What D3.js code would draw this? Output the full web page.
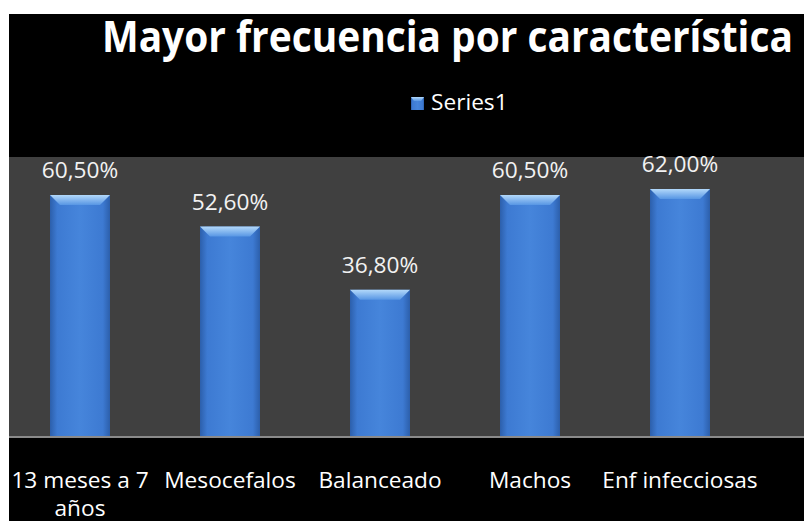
<!DOCTYPE html>
<html>
<head>
<meta charset="utf-8">
<script src="https://cdn.jsdelivr.net/npm/d3@7"></script>
<style>
  html, body { margin: 0; padding: 0; background: #fff; }
  svg { display: block; }
</style>
</head>
<body>
<div id="chart"></div>
<script>
const categories = ['13 meses a 7 años', 'Mesocefalos', 'Balanceado', 'Machos', 'Enf infecciosas']
const catLines = [['13 meses a 7', 'años'], ['Mesocefalos'], ['Balanceado'], ['Machos'], ['Enf infecciosas']]
const values = [0.605, 0.526, 0.368, 0.605, 0.62]
const valueLabels = ['60,50%', '52,60%', '36,80%', '60,50%', '62,00%']
const seriesName = 'Series1'
const title = 'Mayor frecuencia por característica'

const width = 804
const height = 521
const plot = { top: 157, bottom: 437, left: 9, right: 804 }
const font = '"Open Sans", "Noto Sans", sans-serif'
const stretch = 1.08

const svg = d3.select('#chart')
  .append('svg')
  .attr('width', width)
  .attr('height', height)

const defs = svg.append('defs')

const barGrad = defs.append('linearGradient')
  .attr('id', 'barGrad')
  .attr('x1', 0).attr('x2', 1).attr('y1', 0).attr('y2', 0)
barGrad.append('stop').attr('offset', '0%').attr('stop-color', '#2c5fab')
barGrad.append('stop').attr('offset', '12%').attr('stop-color', '#3d7ad2')
barGrad.append('stop').attr('offset', '50%').attr('stop-color', '#4685db')
barGrad.append('stop').attr('offset', '88%').attr('stop-color', '#3d7ad2')
barGrad.append('stop').attr('offset', '100%').attr('stop-color', '#2c5fab')

const bevelGrad = defs.append('linearGradient')
  .attr('id', 'bevelGrad')
  .attr('x1', 0).attr('x2', 0).attr('y1', 0).attr('y2', 1)
bevelGrad.append('stop').attr('offset', '0%').attr('stop-color', '#b2d8fa')
bevelGrad.append('stop').attr('offset', '100%').attr('stop-color', '#5796e4')

// black chart area (white strip top and left as in the picture)
svg.append('rect')
  .attr('x', 9).attr('y', 14)
  .attr('width', width - 9).attr('height', height - 14)
  .attr('fill', '#000')

// plot area
svg.append('rect')
  .attr('x', plot.left).attr('y', plot.top)
  .attr('width', plot.right - plot.left).attr('height', plot.bottom - plot.top)
  .attr('fill', '#404040')

const xScale = d3.scaleBand()
  .domain(categories)
  .range([5, 755])
  .paddingInner(0.6)
  .paddingOuter(0.3)

const yScale = d3.scaleLinear()
  .domain([0, 0.7])
  .range([plot.bottom, plot.top])

const bw = xScale.bandwidth()
const bevel = 10

const bars = svg.append('g')
  .selectAll('g')
  .data(categories)
  .join('g')

bars.append('rect')
  .attr('x', d => xScale(d))
  .attr('y', (d, i) => yScale(values[i]))
  .attr('width', bw)
  .attr('height', (d, i) => yScale(0) - yScale(values[i]))
  .attr('fill', 'url(#barGrad)')

bars.append('polygon')
  .attr('points', (d, i) => {
    const x0 = xScale(d), y0 = yScale(values[i])
    return [[x0, y0], [x0 + bw, y0], [x0 + bw - bevel, y0 + bevel], [x0 + bevel, y0 + bevel]].join(' ')
  })
  .attr('fill', 'url(#bevelGrad)')

// axis line at bottom of plot
svg.append('g')
  .attr('transform', `translate(0,${plot.bottom})`)
  .call(d3.axisBottom(xScale).tickSize(0).tickFormat(''))
  .call(g => g.select('.domain')
    .attr('d', `M${plot.left},0H${plot.right}`)
    .attr('stroke', '#8a8a8a')
    .attr('stroke-width', 2))

const stretchedText = (sel, x, y) => sel
  .attr('transform', (d, i) => `translate(${x(d, i)},${y(d, i)}) scale(${stretch},1)`)

// value labels
svg.append('g')
  .selectAll('text')
  .data(categories)
  .join('text')
  .call(stretchedText, d => xScale(d) + bw / 2, (d, i) => yScale(values[i]) - 17)
  .attr('text-anchor', 'middle')
  .attr('font-family', font)
  .attr('font-size', 21)
  .attr('fill', '#f2f2f2')
  .text((d, i) => valueLabels[i])

// category labels, first one wrapped on two lines
const catText = svg.append('g')
  .selectAll('text')
  .data(categories)
  .join('text')
  .call(stretchedText, d => xScale(d) + bw / 2, () => 488)
  .attr('text-anchor', 'middle')
  .attr('font-family', font)
  .attr('font-size', 21)
  .attr('fill', '#fff')

catText.selectAll('tspan')
  .data((d, i) => catLines[i])
  .join('tspan')
  .attr('x', 0)
  .attr('dy', (d, j) => j === 0 ? 0 : 28)
  .text(d => d)

// legend
const legend = svg.append('g')
  .attr('transform', 'translate(411,97)')
legend.append('rect')
  .attr('width', 13).attr('height', 13)
  .attr('fill', 'url(#barGrad)')
legend.append('polygon')
  .attr('points', '0,0 13,0 10,4 3,4')
  .attr('fill', 'url(#bevelGrad)')
legend.append('text')
  .attr('transform', `translate(20,13) scale(${stretch},1)`)
  .attr('font-family', font)
  .attr('font-size', 21)
  .attr('fill', '#fff')
  .text(seriesName)

// title (condensed look: taller than wide)
svg.append('text')
  .attr('transform', 'translate(102,52) scale(1.08,1.2)')
  .attr('font-family', font)
  .attr('font-weight', 'bold')
  .attr('font-size', 36)
  .attr('fill', '#fff')
  .text(title)
</script>
</body>
</html>
